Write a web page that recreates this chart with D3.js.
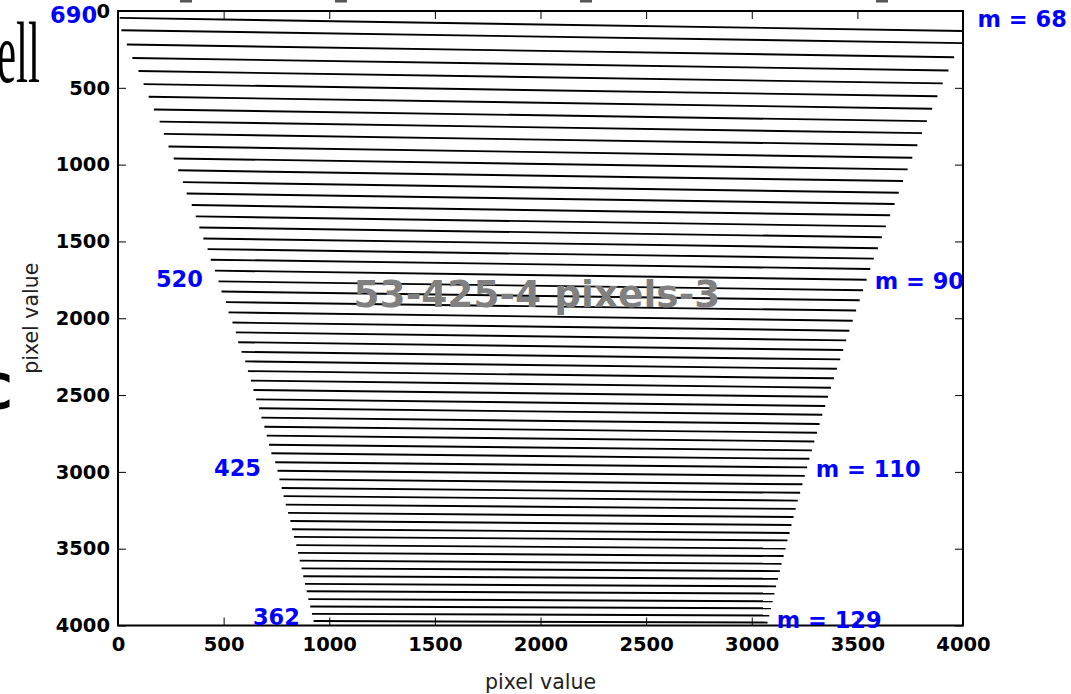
<!DOCTYPE html>
<html>
<head>
<meta charset="utf-8">
<script src="https://cdn.jsdelivr.net/npm/d3@7"></script>
<style>
  body { margin: 0; background: #fff; }
  svg { display: block; font-family: "DejaVu Sans", sans-serif; }
</style>
</head>
<body>
<div id="chart"></div>
<script>
// echelle orders, top to bottom
var orders = [68, 69, 70, 71, 72, 73, 74, 75, 76, 77, 78, 79, 80, 81, 82, 83, 84, 85, 86, 87,
  88, 89, 90, 91, 92, 93, 94, 95, 96, 97, 98, 99, 100, 101, 102, 103, 104, 105, 106, 107,
  108, 109, 110, 111, 112, 113, 114, 115, 116, 117, 118, 119, 120, 121, 122, 123, 124, 125,
  126, 127, 128, 129];

// left end of each order trace (pixel value)
var xStart = [8, 16, 42, 68, 97, 121, 145, 170, 197, 217, 239, 264, 285, 307, 325, 349, 368, 385,
  404, 424, 439, 459, 476, 490, 511, 523, 542, 558, 569, 585, 602, 615, 629, 641, 654, 668, 679,
  693, 704, 715, 726, 744, 755, 764, 775, 784, 794, 805, 816, 824, 833, 844, 852, 860, 869, 877,
  885, 893, 901, 910, 918, 926];
var yStart = [45, 125, 218, 306, 391, 476, 558, 641, 720, 800, 882, 960, 1037, 1114, 1188, 1263,
  1337, 1409, 1481, 1550, 1619, 1690, 1760, 1826, 1895, 1962, 2028, 2092, 2156, 2219, 2281, 2344,
  2406, 2467, 2528, 2586, 2647, 2706, 2764, 2823, 2879, 2937, 2993, 3049, 3105, 3158, 3213, 3267,
  3320, 3373, 3423, 3477, 3527, 3578, 3628, 3679, 3729, 3777, 3828, 3876, 3924, 3971];

// right end of each order trace
var xEnd = [4000, 4000, 3958, 3931, 3904, 3879, 3854, 3829, 3806, 3784, 3760, 3738, 3716, 3696,
  3676, 3655, 3635, 3616, 3597, 3578, 3561, 3544, 3527, 3511, 3494, 3478, 3462, 3447, 3433, 3419,
  3403, 3389, 3375, 3361, 3348, 3334, 3321, 3309, 3296, 3285, 3273, 3262, 3251, 3240, 3229, 3218,
  3208, 3198, 3188, 3179, 3169, 3160, 3151, 3141, 3133, 3124, 3115, 3107, 3099, 3091, 3083, 3075];
var yEnd = [130, 209, 301, 387, 471, 555, 636, 717, 795, 874, 955, 1031, 1107, 1183, 1256, 1330,
  1402, 1473, 1544, 1612, 1679, 1749, 1818, 1883, 1950, 2016, 2081, 2144, 2207, 2268, 2329, 2391,
  2452, 2511, 2571, 2628, 2688, 2745, 2802, 2860, 2915, 2971, 3026, 3081, 3136, 3187, 3241, 3294,
  3346, 3398, 3446, 3499, 3548, 3598, 3646, 3696, 3745, 3792, 3842, 3888, 3935, 3981];

// annotations (data coordinates)
var waveLabels = ["690", "520", "425", "362"];
var waveX = [-99, 402, 677, 861];
var waveY = [26, 1744, 2975, 3945];
var orderLabels = ["m = 68", "m = 90", "m = 110", "m = 129"];
var orderX = [4069, 3582, 3303, 3118];
var orderY = [52, 1757, 2981, 3964];

var tickValues = [0, 500, 1000, 1500, 2000, 2500, 3000, 3500, 4000];
var title = "53-425-4 pixels-3";

var width = 1071, height = 694;
var plotLeft = 118, plotRight = 963, plotTop = 11, plotBottom = 625.5;

var svg = d3.select("#chart").append("svg")
  .attr("width", width)
  .attr("height", height);

var scalex = d3.scaleLinear().domain([0, 4000]).range([plotLeft, plotRight]);
var scaley = d3.scaleLinear().domain([0, 4000]).range([plotTop, plotBottom]);

// bits of neighbouring figure panels cropped into the picture
svg.append("text")
  .attr("transform", "translate(-3,82) scale(0.5,1)")
  .style("font-family", "'Liberation Serif', serif")
  .style("font-size", "86px")
  .attr("fill", "#000")
  .text("ell");
svg.append("text")
  .attr("x", -24).attr("y", 409)
  .style("font-size", "50px")
  .style("font-weight", "bold")
  .attr("fill", "#000")
  .text("C");
[180, 335, 580, 876].forEach(function (x) {
  svg.append("rect").attr("x", x).attr("y", 0).attr("width", 12).attr("height", 2.5).attr("fill", "#555");
});

svg.append("clipPath").attr("id", "plotclip")
  .append("rect")
  .attr("x", plotLeft).attr("y", plotTop)
  .attr("width", plotRight - plotLeft).attr("height", plotBottom - plotTop);

var traces = orders.map(function (m, i) {
  return [[xStart[i], yStart[i]], [xEnd[i], yEnd[i]]];
});

var line = d3.line()
  .x(function (d) { return scalex(d[0]); })
  .y(function (d) { return scaley(d[1]); });

svg.append("g")
  .attr("clip-path", "url(#plotclip)")
  .selectAll("path")
  .data(traces)
  .enter()
  .append("path")
  .attr("d", line)
  .attr("fill", "none")
  .attr("stroke", "#000")
  .attr("stroke-width", 1.9);

// big grey label in the middle
svg.append("text")
  .attr("x", scalex(1983))
  .attr("y", scaley(1925))
  .attr("text-anchor", "middle")
  .style("font-size", "37.5px")
  .style("font-weight", "bold")
  .attr("fill", "#808080")
  .text(title);

// axes, ticks inward on all four sides
function styleAxis(g) {
  g.select(".domain").remove();
  g.selectAll(".tick line").attr("stroke", "#000").attr("stroke-width", 1);
  g.selectAll(".tick text")
    .attr("fill", "#000")
    .style("font-family", "'DejaVu Sans', sans-serif")
    .style("font-size", "19.5px")
    .style("font-weight", "bold");
}

svg.append("g")
  .attr("transform", "translate(0," + plotBottom + ")")
  .call(d3.axisBottom(scalex).tickValues(tickValues).tickFormat(d3.format("d"))
    .tickSizeInner(-8).tickSizeOuter(0).tickPadding(12))
  .call(styleAxis);
svg.append("g")
  .attr("transform", "translate(" + plotLeft + ",0)")
  .call(d3.axisLeft(scaley).tickValues(tickValues).tickFormat(d3.format("d"))
    .tickSizeInner(-8).tickSizeOuter(0).tickPadding(8))
  .call(styleAxis);
svg.append("g")
  .attr("transform", "translate(0," + plotTop + ")")
  .call(d3.axisTop(scalex).tickValues(tickValues).tickSizeInner(-8).tickSizeOuter(0).tickFormat(""))
  .call(styleAxis);
svg.append("g")
  .attr("transform", "translate(" + plotRight + ",0)")
  .call(d3.axisRight(scaley).tickValues(tickValues).tickSizeInner(-8).tickSizeOuter(0).tickFormat(""))
  .call(styleAxis);

svg.append("rect")
  .attr("x", plotLeft).attr("y", plotTop)
  .attr("width", plotRight - plotLeft).attr("height", plotBottom - plotTop)
  .attr("fill", "none")
  .attr("stroke", "#000")
  .attr("stroke-width", 2);

// axis titles
svg.append("text")
  .attr("x", (plotLeft + plotRight) / 2)
  .attr("y", 689)
  .attr("text-anchor", "middle")
  .style("font-size", "20.5px")
  .attr("fill", "#222")
  .text("pixel value");
svg.append("text")
  .attr("transform", "translate(38," + (plotTop + plotBottom) / 2 + ") rotate(-90)")
  .attr("text-anchor", "middle")
  .style("font-size", "20.5px")
  .attr("fill", "#222")
  .text("pixel value");

// wavelength (nm) and order annotations
svg.selectAll(".wave")
  .data(waveLabels)
  .enter()
  .append("text")
  .attr("class", "wave")
  .attr("x", function (d, i) { return scalex(waveX[i]); })
  .attr("y", function (d, i) { return scaley(waveY[i]); })
  .attr("dy", "0.36em")
  .attr("text-anchor", "end")
  .style("font-size", "22.5px")
  .style("font-weight", "bold")
  .attr("fill", "#0000ff")
  .text(function (d) { return d; });

svg.selectAll(".order")
  .data(orderLabels)
  .enter()
  .append("text")
  .attr("class", "order")
  .attr("x", function (d, i) { return scalex(orderX[i]); })
  .attr("y", function (d, i) { return scaley(orderY[i]); })
  .attr("dy", "0.36em")
  .attr("text-anchor", "start")
  .style("font-size", "22.5px")
  .style("font-weight", "bold")
  .attr("fill", "#0000ff")
  .text(function (d) { return d; });
</script>
</body>
</html>
